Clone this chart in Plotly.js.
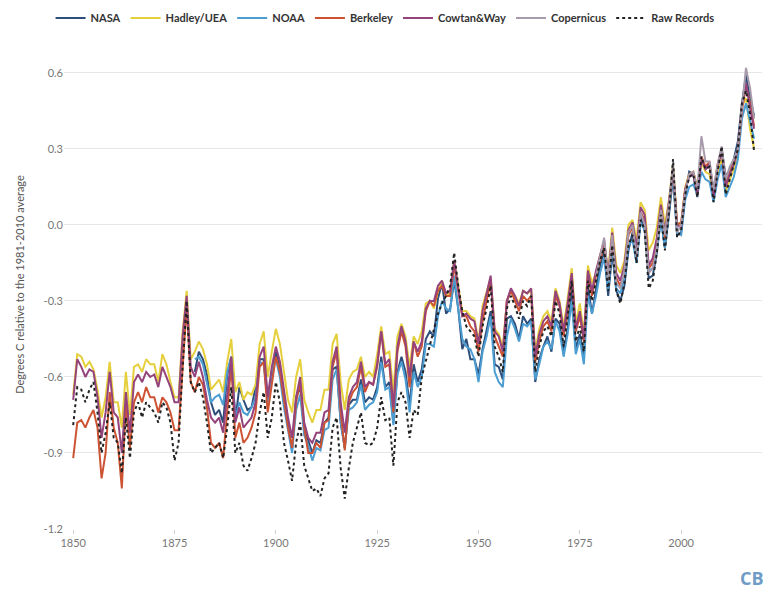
<!DOCTYPE html>
<html><head><meta charset="utf-8">
<script src="https://cdn.plot.ly/plotly-3.0.1.min.js"></script>
<style>html,body{margin:0;padding:0;background:#fff}#chart{width:766px;height:591px}</style>
</head><body><div id="chart"></div>
<script>
// Years
const yearsFrom1850 = Array.from({length: 169}, (_, i) => 1850 + i);
const yearsFrom1880 = Array.from({length: 139}, (_, i) => 1880 + i);
const yearsFrom1979 = Array.from({length: 40}, (_, i) => 1979 + i);

// Hadley/UEA 1850-2018
const hadley = [
-0.67,-0.51,-0.52,-0.56,-0.54,-0.57,-0.65,-0.76,-0.68,-0.54,
-0.70,-0.70,-0.80,-0.58,-0.75,-0.56,-0.55,-0.58,-0.53,-0.55,
-0.55,-0.62,-0.51,-0.55,-0.62,-0.68,-0.68,-0.42,-0.26,-0.53,
-0.50,-0.46,-0.49,-0.55,-0.65,-0.63,-0.61,-0.66,-0.54,-0.45,
-0.66,-0.62,-0.69,-0.66,-0.67,-0.63,-0.47,-0.42,-0.60,-0.50,
-0.41,-0.47,-0.59,-0.69,-0.74,-0.60,-0.53,-0.69,-0.74,-0.78,
-0.73,-0.73,-0.65,-0.65,-0.47,-0.43,-0.62,-0.73,-0.61,-0.58,
-0.57,-0.52,-0.60,-0.58,-0.60,-0.51,-0.40,-0.51,-0.50,-0.66,
-0.44,-0.39,-0.44,-0.56,-0.44,-0.47,-0.42,-0.31,-0.30,-0.33,
-0.26,-0.22,-0.28,-0.27,-0.14,-0.25,-0.34,-0.34,-0.36,-0.37,
-0.46,-0.32,-0.26,-0.21,-0.41,-0.43,-0.48,-0.30,-0.26,-0.28,
-0.31,-0.26,-0.27,-0.26,-0.50,-0.41,-0.36,-0.34,-0.38,-0.25,
-0.30,-0.40,-0.29,-0.17,-0.39,-0.31,-0.43,-0.16,-0.23,-0.19,
-0.12,-0.07,-0.18,-0.01,-0.16,-0.19,-0.14,0.00,0.02,-0.06,
0.09,0.06,-0.10,-0.07,-0.01,0.11,0.00,0.10,0.24,0.01,
0.00,0.15,0.20,0.21,0.15,0.25,0.21,0.20,0.10,0.21,
0.26,0.13,0.18,0.22,0.28,0.47,0.50,0.38,0.30];

// NASA 1880-2018
const nasa = [
-0.58,-0.50,-0.53,-0.59,-0.70,-0.75,-0.73,-0.78,-0.59,-0.52,
-0.77,-0.64,-0.69,-0.73,-0.72,-0.64,-0.53,-0.53,-0.69,-0.59,
-0.50,-0.57,-0.70,-0.79,-0.89,-0.68,-0.64,-0.81,-0.85,-0.90,
-0.85,-0.86,-0.78,-0.76,-0.57,-0.56,-0.78,-0.88,-0.71,-0.69,
-0.69,-0.61,-0.70,-0.68,-0.69,-0.64,-0.52,-0.64,-0.62,-0.78,
-0.58,-0.52,-0.58,-0.71,-0.55,-0.62,-0.57,-0.45,-0.42,-0.44,
-0.29,-0.23,-0.35,-0.33,-0.22,-0.33,-0.49,-0.45,-0.53,-0.53,
-0.59,-0.49,-0.41,-0.34,-0.55,-0.56,-0.61,-0.37,-0.36,-0.39,
-0.45,-0.36,-0.39,-0.37,-0.62,-0.53,-0.48,-0.44,-0.50,-0.37,
-0.39,-0.50,-0.41,-0.26,-0.49,-0.43,-0.52,-0.24,-0.35,-0.26,
-0.16,-0.10,-0.28,-0.11,-0.26,-0.30,-0.24,-0.10,-0.03,-0.15,
0.03,-0.02,-0.21,-0.20,-0.11,0.03,-0.09,0.04,0.19,-0.04,
-0.03,0.12,0.21,0.20,0.11,0.26,0.22,0.24,0.12,0.23,
0.30,0.19,0.22,0.26,0.33,0.48,0.59,0.50,0.43];

// NOAA 1880-2018
const noaa = [
-0.53,-0.52,-0.55,-0.63,-0.70,-0.68,-0.67,-0.71,-0.58,-0.52,
-0.76,-0.70,-0.74,-0.75,-0.72,-0.68,-0.54,-0.55,-0.70,-0.58,
-0.53,-0.60,-0.72,-0.81,-0.90,-0.73,-0.67,-0.83,-0.87,-0.93,
-0.88,-0.89,-0.81,-0.80,-0.61,-0.57,-0.78,-0.88,-0.73,-0.72,
-0.70,-0.63,-0.73,-0.71,-0.70,-0.66,-0.54,-0.65,-0.64,-0.79,
-0.59,-0.54,-0.61,-0.74,-0.58,-0.64,-0.60,-0.47,-0.47,-0.48,
-0.36,-0.30,-0.33,-0.34,-0.20,-0.33,-0.45,-0.48,-0.49,-0.53,
-0.62,-0.50,-0.44,-0.36,-0.58,-0.62,-0.64,-0.44,-0.37,-0.41,
-0.46,-0.39,-0.40,-0.38,-0.61,-0.55,-0.48,-0.46,-0.49,-0.38,
-0.42,-0.52,-0.43,-0.30,-0.51,-0.45,-0.55,-0.28,-0.35,-0.28,
-0.19,-0.13,-0.26,-0.09,-0.25,-0.27,-0.21,-0.08,-0.06,-0.15,
0.01,-0.02,-0.18,-0.17,-0.10,0.02,-0.09,0.06,0.19,-0.03,
-0.04,0.10,0.15,0.16,0.12,0.21,0.18,0.17,0.09,0.18,
0.24,0.11,0.15,0.19,0.26,0.42,0.48,0.41,0.34];

// Berkeley 1850-2018
const berkeley = [
-0.92,-0.78,-0.77,-0.80,-0.76,-0.73,-0.80,-1.00,-0.90,-0.66,
-0.80,-0.86,-1.04,-0.70,-0.88,-0.70,-0.66,-0.70,-0.64,-0.68,
-0.68,-0.74,-0.68,-0.70,-0.74,-0.81,-0.81,-0.55,-0.32,-0.62,
-0.66,-0.60,-0.63,-0.72,-0.86,-0.88,-0.86,-0.92,-0.74,-0.55,
-0.84,-0.78,-0.86,-0.84,-0.80,-0.74,-0.56,-0.54,-0.74,-0.62,
-0.52,-0.58,-0.70,-0.80,-0.88,-0.70,-0.62,-0.80,-0.90,-0.90,
-0.86,-0.88,-0.78,-0.77,-0.56,-0.50,-0.74,-0.89,-0.70,-0.66,
-0.64,-0.56,-0.66,-0.62,-0.63,-0.56,-0.42,-0.56,-0.55,-0.74,
-0.50,-0.42,-0.48,-0.64,-0.46,-0.52,-0.48,-0.34,-0.30,-0.32,
-0.26,-0.24,-0.28,-0.28,-0.16,-0.26,-0.36,-0.36,-0.40,-0.42,
-0.50,-0.38,-0.30,-0.22,-0.44,-0.48,-0.52,-0.30,-0.26,-0.30,
-0.34,-0.28,-0.30,-0.28,-0.54,-0.46,-0.40,-0.38,-0.42,-0.28,
-0.32,-0.44,-0.34,-0.20,-0.42,-0.36,-0.46,-0.20,-0.28,-0.20,
-0.14,-0.08,-0.22,-0.06,-0.21,-0.24,-0.18,-0.04,-0.01,-0.11,
0.05,0.02,-0.17,-0.15,-0.07,0.06,-0.05,0.07,0.22,0.00,
0.01,0.14,0.20,0.21,0.14,0.27,0.23,0.25,0.13,0.24,
0.30,0.17,0.21,0.25,0.30,0.45,0.55,0.48,0.39];

// Cowtan & Way 1850-2018
const cowtanWay = [
-0.69,-0.53,-0.56,-0.60,-0.57,-0.58,-0.68,-0.84,-0.74,-0.58,
-0.74,-0.76,-0.90,-0.66,-0.82,-0.62,-0.59,-0.62,-0.58,-0.60,
-0.59,-0.64,-0.56,-0.60,-0.64,-0.70,-0.70,-0.44,-0.28,-0.56,
-0.60,-0.54,-0.60,-0.69,-0.76,-0.78,-0.76,-0.82,-0.66,-0.52,
-0.78,-0.72,-0.80,-0.78,-0.76,-0.70,-0.52,-0.48,-0.68,-0.56,
-0.48,-0.54,-0.66,-0.76,-0.84,-0.68,-0.60,-0.78,-0.84,-0.86,
-0.82,-0.82,-0.74,-0.73,-0.54,-0.48,-0.70,-0.82,-0.68,-0.64,
-0.62,-0.54,-0.64,-0.62,-0.63,-0.55,-0.42,-0.55,-0.53,-0.72,
-0.48,-0.40,-0.46,-0.60,-0.46,-0.50,-0.46,-0.33,-0.30,-0.30,
-0.24,-0.22,-0.27,-0.26,-0.14,-0.25,-0.36,-0.35,-0.37,-0.38,
-0.47,-0.34,-0.27,-0.20,-0.42,-0.44,-0.50,-0.30,-0.25,-0.28,
-0.32,-0.26,-0.27,-0.25,-0.52,-0.43,-0.38,-0.36,-0.40,-0.26,
-0.31,-0.42,-0.31,-0.19,-0.41,-0.34,-0.45,-0.18,-0.26,-0.18,
-0.12,-0.06,-0.20,-0.03,-0.19,-0.22,-0.16,-0.02,0.01,-0.09,
0.07,0.04,-0.16,-0.13,-0.05,0.08,-0.03,0.09,0.22,0.00,
-0.01,0.14,0.19,0.20,0.12,0.26,0.22,0.24,0.11,0.23,
0.29,0.15,0.20,0.24,0.30,0.47,0.56,0.46,0.38];

// Copernicus 1979-2018
const copernicus = [
-0.20,-0.12,-0.05,-0.22,-0.04,-0.23,-0.25,-0.18,-0.03,0.00,
-0.13,0.05,0.00,-0.19,-0.17,-0.09,0.06,-0.04,0.08,0.24,
-0.03,0.00,0.13,0.20,0.21,0.14,0.35,0.25,0.25,0.14,
0.24,0.31,0.18,0.23,0.26,0.30,0.45,0.62,0.54,0.42];

// Raw records 1850-2018
const raw = [
-0.79,-0.64,-0.65,-0.70,-0.65,-0.62,-0.74,-0.90,-0.82,-0.70,
-0.84,-0.86,-0.98,-0.76,-0.92,-0.74,-0.70,-0.76,-0.70,-0.72,
-0.74,-0.78,-0.70,-0.72,-0.78,-0.93,-0.86,-0.56,-0.30,-0.62,
-0.66,-0.62,-0.68,-0.78,-0.90,-0.88,-0.86,-0.92,-0.80,-0.64,
-0.90,-0.86,-0.95,-0.97,-0.92,-0.86,-0.74,-0.66,-0.84,-0.76,
-0.62,-0.70,-0.86,-0.93,-1.01,-0.86,-0.78,-0.95,-1.00,-1.05,
-1.04,-1.07,-1.00,-0.98,-0.80,-0.76,-0.96,-1.08,-0.96,-0.86,
-0.80,-0.74,-0.86,-0.87,-0.86,-0.80,-0.68,-0.77,-0.76,-0.95,
-0.70,-0.66,-0.70,-0.84,-0.73,-0.75,-0.60,-0.54,-0.48,-0.42,
-0.35,-0.31,-0.28,-0.24,-0.11,-0.24,-0.34,-0.40,-0.42,-0.44,
-0.52,-0.40,-0.33,-0.24,-0.48,-0.52,-0.58,-0.33,-0.28,-0.32,
-0.37,-0.30,-0.32,-0.28,-0.58,-0.48,-0.42,-0.40,-0.44,-0.30,
-0.35,-0.48,-0.36,-0.22,-0.46,-0.40,-0.50,-0.22,-0.30,-0.22,
-0.14,-0.09,-0.26,-0.08,-0.26,-0.31,-0.23,-0.08,-0.04,-0.15,
0.02,-0.02,-0.25,-0.22,-0.11,0.04,-0.10,0.05,0.26,-0.05,
-0.02,0.12,0.19,0.20,0.11,0.27,0.22,0.23,0.09,0.21,
0.31,0.12,0.18,0.24,0.30,0.48,0.53,0.44,0.29];

const yTicks = [-1.2, -0.9, -0.6, -0.3, 0.0, 0.3, 0.6];
const xTicks = [1850, 1875, 1900, 1925, 1950, 1975, 2000];

function line(name, x, y, color, dash) {
  return {type: 'scatter', mode: 'lines', name: name, x: x, y: y,
    line: {color: color, width: 2, dash: dash || 'solid'}, hoverinfo: 'skip'};
}

const traces = [
  line('NASA', yearsFrom1880, nasa, '#2d4e7b'),
  line('Hadley/UEA', yearsFrom1850, hadley, '#e6cf3c'),
  line('NOAA', yearsFrom1880, noaa, '#4b9dd2'),
  line('Berkeley', yearsFrom1850, berkeley, '#cd5333'),
  line('Cowtan&Way', yearsFrom1850, cowtanWay, '#94437c'),
  line('Copernicus', yearsFrom1979, copernicus, '#a79aab'),
  line('Raw Records', yearsFrom1850, raw, '#222222', 'dot')
];

const layout = {
  width: 766, height: 591,
  margin: {l: 64, r: 4, t: 40, b: 62},
  paper_bgcolor: '#fff', plot_bgcolor: '#fff',
  font: {family: 'Lato, "Open Sans", sans-serif', color: '#666', size: 11},
  showlegend: true,
  legend: {orientation: 'h', x: 0.46, xanchor: 'center', y: 1.045, yanchor: 'middle',
    font: {size: 11, color: '#333', family: '"Liberation Sans Narrow", Lato, sans-serif', weight: 700},
    itemwidth: 30, tracegroupgap: 0},
  xaxis: {range: [1847.73, 2019.95], tickvals: xTicks, ticktext: xTicks.map(String),
    showgrid: false, zeroline: false, showline: false,
    ticks: 'outside', ticklen: 4, tickcolor: '#d0d0d0',
    tickfont: {size: 11, color: '#777'}},
  yaxis: {range: [-1.2, 0.73], tickvals: yTicks, ticktext: yTicks.map(v => v.toFixed(1)),
    showgrid: true, gridcolor: '#e6e6e6', gridwidth: 1, zeroline: false, showline: false,
    ticks: '', tickfont: {size: 11, color: '#777'},
    title: {text: 'Degrees C relative to the 1981-2010 average', font: {size: 11, color: '#555'}, standoff: 16}},
  annotations: [{xref: 'paper', yref: 'paper', x: 0.986, y: -0.1, xanchor: 'center', yanchor: 'middle',
    text: '<b>CB</b>', showarrow: false, font: {size: 18, color: '#6f9cc6', family: '"Liberation Sans Narrow", "Open Sans", sans-serif'}}]
};

Plotly.newPlot('chart', traces, layout, {displayModeBar: false, staticPlot: true});
</script></body></html>
